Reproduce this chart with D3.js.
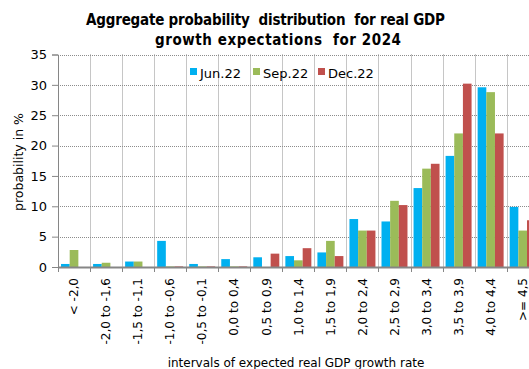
<!DOCTYPE html>
<html><head><meta charset="utf-8">
<script src="https://cdn.jsdelivr.net/npm/d3@7"></script>
<style>body{margin:0;background:#fff}svg{display:block}</style>
</head><body>
<svg id="c" width="529" height="369"></svg>
<script>
const categories = ["< -2,0","-2,0 to -1,6","-1,5 to -1,1","-1,0 to -0,6","-0,5 to -0,1","0,0 to 0,4","0,5 to 0,9","1,0 to 1,4","1,5 to 1,9","2,0 to 2,4","2,5 to 2,9","3,0 to 3,4","3,5 to 3,9","4,0 to 4,4",">= 4,5"];
const seriesNames = ["Jun.22","Sep.22","Dec.22"];
const jun22 = [0.5,0.5,0.9,4.3,0.5,1.3,1.6,1.8,2.4,7.9,7.5,13.0,18.3,29.6,9.9];
const sep22 = [2.8,0.7,0.9,0.1,0.1,0.1,0.0,1.1,4.3,6.0,10.9,16.2,22.0,28.8,6.0];
const dec22 = [0.0,0.0,0.0,0.1,0.1,0.1,2.2,3.1,1.8,6.0,10.2,17.0,30.2,22.0,7.7];
const yTicks = [0,5,10,15,20,25,30,35];
const colors = ["#00B0F0","#9BBB59","#C0504D"];

const series = [jun22, sep22, dec22];
const svg = d3.select("#c");
const font = "'DejaVu Sans', Verdana, sans-serif";
const fontTitle = "'DejaVu Sans Condensed', 'DejaVu Sans', sans-serif";
const pL = 58, pR = 538.7, pT = 54.5, pB = 267;

const x = d3.scaleBand().domain(categories).range([pL, pR]).paddingInner(0).paddingOuter(0);
const xs = d3.scaleBand().domain(seriesNames).range([0, x.bandwidth()]).paddingInner(0).paddingOuter(0.35);
const y = d3.scaleLinear().domain([0, 35]).range([pB, pT]);

// horizontal grid
svg.append("g").selectAll("line").data(yTicks.filter(d => d > 0)).join("line")
  .attr("x1", pL).attr("x2", pR).attr("y1", d => Math.round(y(d)) + 0.5).attr("y2", d => Math.round(y(d)) + 0.5)
  .attr("stroke", "#8c8c8c").attr("stroke-width", 1).attr("stroke-dasharray", "1,1");
// vertical grid at category boundaries
svg.append("g").selectAll("line").data(categories.slice(1)).join("line")
  .attr("x1", d => Math.round(x(d)) + 0.5).attr("x2", d => Math.round(x(d)) + 0.5)
  .attr("y1", pT).attr("y2", pB)
  .attr("stroke", "#8c8c8c").attr("stroke-width", 1).attr("stroke-dasharray", "1,1");

// bars
const g = svg.append("g");
categories.forEach((c, i) => {
  g.selectAll(null).data(seriesNames.map((s, j) => ({s, j, v: series[j][i]}))).join("rect")
    .attr("x", d => x(c) + xs(d.s))
    .attr("width", xs.bandwidth())
    .attr("y", d => y(d.v))
    .attr("height", d => pB - y(d.v))
    .attr("fill", d => colors[d.j]);
});

// y axis
const yAxis = svg.append("g").attr("transform", `translate(${pL},0)`)
  .call(d3.axisLeft(y).tickValues(yTicks).tickSize(6).tickPadding(5));
yAxis.select(".domain").attr("stroke", "#868686");
yAxis.selectAll(".tick line").attr("stroke", "#868686");
yAxis.selectAll("text").attr("font-family", font).attr("font-size", 13).attr("fill", "#000");

// x axis
const xAxis = svg.append("g").attr("transform", `translate(0,${pB})`)
  .call(d3.axisBottom(x).tickSize(0).tickPadding(0));
xAxis.select(".domain").attr("stroke", "#868686").attr("stroke-width", 2);
xAxis.selectAll(".tick text")
  .attr("font-family", font).attr("font-size", 12).attr("fill", "#000")
  .attr("text-anchor", "end").attr("dy", "0.35em")
  .attr("transform", "translate(0,11) rotate(-90)").attr("x", 0).attr("y", 0);
// boundary tick marks
svg.append("g").selectAll("line").data(d3.range(categories.length + 1)).join("line")
  .attr("x1", i => Math.round(pL + i * x.step()) + 0.5).attr("x2", i => Math.round(pL + i * x.step()) + 0.5)
  .attr("y1", pB).attr("y2", pB + 5).attr("stroke", "#868686");

// titles
svg.append("text").attr("x", 86).attr("y", 25)
  .attr("font-family", fontTitle).attr("font-weight", "bold").attr("font-size", 15)
  .attr("textLength", 359).attr("lengthAdjust", "spacing")
  .style("white-space", "pre")
  .text("Aggregate probability  distribution  for real GDP");
svg.append("text").attr("x", 155).attr("y", 45)
  .attr("font-family", fontTitle).attr("font-weight", "bold").attr("font-size", 15)
  .attr("textLength", 246).attr("lengthAdjust", "spacing")
  .style("white-space", "pre")
  .text("growth expectations  for 2024");

svg.append("text").attr("transform", "translate(23,162) rotate(-90)").attr("text-anchor", "middle")
  .attr("font-family", font).attr("font-size", 12.5).text("probability in %");
svg.append("text").attr("x", 296).attr("y", 367).attr("text-anchor", "middle")
  .attr("font-family", font).attr("font-size", 12).text("intervals of expected real GDP growth rate");

// legend
const legendX = [190, 253, 318];
const lg = svg.append("g");
seriesNames.forEach((s, j) => {
  lg.append("rect").attr("x", legendX[j]).attr("y", 68).attr("width", 7).attr("height", 7).attr("fill", colors[j]);
  lg.append("text").attr("x", legendX[j] + 10).attr("y", 77.5).attr("font-family", font).attr("font-size", 13).text(s);
});
</script>
</body></html>
